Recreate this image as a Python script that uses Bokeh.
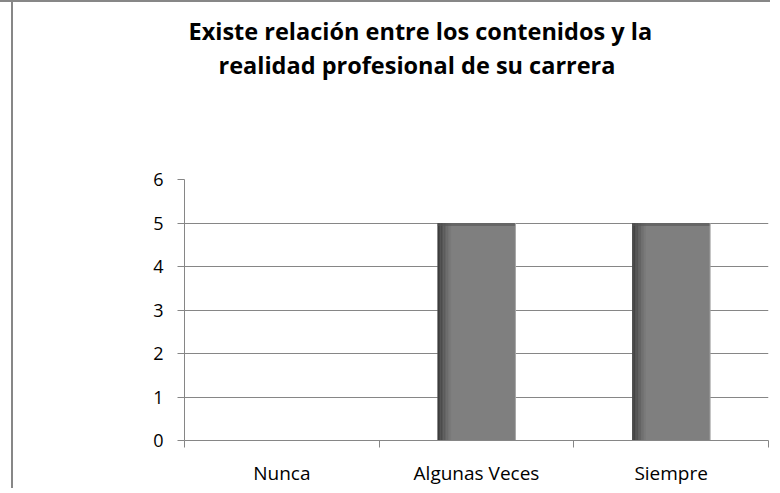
from bokeh.plotting import figure
from bokeh.models import Range1d, FixedTicker, Title, ColumnDataSource
from bokeh.embed import file_html
from bokeh.resources import INLINE

# ---- data ----
categories = ["Nunca", "Algunas Veces", "Siempre"]
counts = [0, 5, 5]
y_ticks = [0, 1, 2, 3, 4, 5, 6]
title_lines = ["Existe relación entre los contenidos y la",
               "realidad profesional de su carrera"]

FONT = "Open Sans"
GRID = "#868686"

n = len(categories)
xs = [i + 0.5 for i in range(n)]
bar_w = 0.4

FW, FH = 584, 261
p = figure(frame_width=FW, frame_height=FH, output_backend="svg", toolbar_location=None,
           x_range=Range1d(0, n), y_range=Range1d(0, max(y_ticks)),
           min_border_left=184, min_border_right=2, min_border_top=177,
           min_border_bottom=43, title=None)
p.outline_line_color = None
p.background_fill_color = "white"
p.border_fill_color = None
p.styles = {"border-top": "2px solid #878787",
            "background": "linear-gradient(to right, #ffffff 11px, #878787 11px, "
                          "#878787 13px, #ffffff 13px)"}

# main bars
src = ColumnDataSource(dict(x=xs, top=counts))
p.vbar(x="x", top="top", width=bar_w, source=src, fill_color="#7f7f7f",
       line_color=None)

# left shading strips (cylinder-like gradient)
px_per_unit = FW / n
strip_px = 1.5
shades = ["#3c3c3c", "#444444", "#4c4c4c", "#545454", "#5c5c5c", "#646464",
          "#6c6c6c", "#737373", "#797979"]
sw = strip_px / px_per_unit
for k, col in enumerate(shades):
    sx = [x - bar_w / 2 + (k + 0.5) * sw for x in xs]
    p.vbar(x=sx, top=counts, width=sw, fill_color=col, line_color=None)

# top shading and right light edge (only for non-zero bars)
nz = [(x, c) for x, c in zip(xs, counts) if c > 0]
dy = 3.0 / (FH / max(y_ticks))
p.quad(left=[x - bar_w / 2 for x, c in nz], right=[x + bar_w / 2 for x, c in nz],
       top=[c for x, c in nz], bottom=[c - dy for x, c in nz],
       fill_color="#555555", fill_alpha=0.6, line_color=None)
p.segment(x0=[x + bar_w / 2 for x, c in nz], x1=[x + bar_w / 2 for x, c in nz],
          y0=[0 for x, c in nz], y1=[c for x, c in nz],
          line_color="#a6a6a6", line_width=1)

# x axis: labels at centers, boundary ticks as minor ticks
xa = p.xaxis[0]
xa.ticker = FixedTicker(ticks=xs, minor_ticks=list(range(n + 1)))
xa.major_label_overrides = {x: c for x, c in zip(xs, categories)}
xa.major_tick_line_color = None
xa.major_tick_out = 0
xa.major_tick_in = 0
xa.minor_tick_line_color = GRID
xa.minor_tick_out = 7
xa.minor_tick_in = 0
xa.axis_line_color = GRID
xa.major_label_standoff = 12
xa.major_label_text_font = FONT
xa.major_label_text_font_size = "19px"
xa.major_label_text_color = "black"

ya = p.yaxis[0]
ya.ticker = FixedTicker(ticks=y_ticks)
ya.major_tick_line_color = GRID
ya.major_tick_out = 7
ya.major_tick_in = 0
ya.minor_tick_line_color = None
ya.axis_line_color = GRID
ya.major_label_standoff = 14
ya.major_label_text_font = FONT
ya.major_label_text_font_size = "18px"
ya.major_label_text_color = "black"

p.xgrid.grid_line_color = None
p.ygrid.grid_line_color = GRID
p.ygrid.grid_line_width = 1

# title: spacer nearest the frame, then line 2, then line 1
p.add_layout(Title(text=" ", text_font_size="1px", standoff=96), "above")
offsets = [4, 34]
for i in (1, 0):
    p.add_layout(Title(text=title_lines[i], align="left", offset=offsets[i],
                       standoff=0, text_font=FONT,
                       text_font_style="bold", text_font_size="23.5px",
                       text_color="black"), "above")

open("out.html", "w").write(file_html(p, INLINE))
